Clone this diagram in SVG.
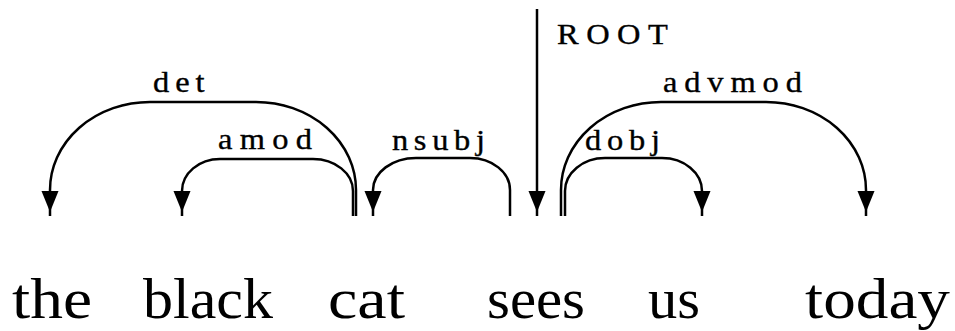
<svg xmlns="http://www.w3.org/2000/svg" xmlns:xlink="http://www.w3.org/1999/xlink" width="955" height="331" viewBox="0 0 955 331">
<style>
.arc{fill:none;stroke:#000;stroke-width:2.5}
.lbl{font-family:"Liberation Serif","DejaVu Serif",serif;font-size:29px;fill:#000;stroke:#000;stroke-width:0.35}
.word{font-family:"Liberation Serif","DejaVu Serif",serif;font-size:57px;fill:#000}
.ah{fill:#000;stroke:none}
</style>
<defs>
<path id="ah" class="ah" d="M-8.5,-25 L8.5,-25 L0,-4 Z"/>
</defs>
<rect width="955" height="331" fill="#fff"/>
<g id="connectors">
<g id="e-det">
<path class="arc" d="M356,216 V190 A100,88 0 0 0 256,102 H150 A100,88 0 0 0 50,190 V216"/>
<use xlink:href="#ah" href="#ah" x="50" y="216"/>
<g transform="translate(153,92) scale(1.12,1)"><text class="lbl" x="0" y="0" textLength="46" lengthAdjust="spacing">det</text></g>
</g>
<g id="e-amod">
<path class="arc" d="M353,216 V191 A40,32 0 0 0 313,159 H220 A38,32 0 0 0 182,191 V216"/>
<use xlink:href="#ah" href="#ah" x="182" y="216"/>
<g transform="translate(218,149) scale(1.12,1)"><text class="lbl" x="0" y="0" textLength="84" lengthAdjust="spacing">amod</text></g>
</g>
<g id="e-nsubj">
<path class="arc" d="M510,216 V190 A40,32 0 0 0 470,158 H416 A43,32 0 0 0 373,190 V216"/>
<use xlink:href="#ah" href="#ah" x="373" y="216"/>
<g transform="translate(392,150) scale(1.12,1)"><text class="lbl" x="0" y="0" textLength="83" lengthAdjust="spacing">nsubj</text></g>
</g>
<g id="e-root">
<path class="arc" d="M537,9 V216"/>
<use xlink:href="#ah" href="#ah" x="537" y="216"/>
<g transform="translate(557,44) scale(1.12,1)"><text class="lbl" x="0" y="0" textLength="99" lengthAdjust="spacing">ROOT</text></g>
</g>
<g id="e-dobj">
<path class="arc" d="M565,216 V191 A40,33 0 0 1 605,158 H662 A40,33 0 0 1 702,191 V216"/>
<use xlink:href="#ah" href="#ah" x="702" y="216"/>
<g transform="translate(585,150) scale(1.12,1)"><text class="lbl" x="0" y="0" textLength="67" lengthAdjust="spacing">dobj</text></g>
</g>
<g id="e-advmod">
<path class="arc" d="M561,216 V190 A100,88 0 0 1 661,102 H766 A100,88 0 0 1 866,190 V216"/>
<use xlink:href="#ah" href="#ah" x="866" y="216"/>
<g transform="translate(663,92) scale(1.12,1)"><text class="lbl" x="0" y="0" textLength="124" lengthAdjust="spacing">advmod</text></g>
</g>
</g>
<g id="w-the"><text class="word" x="12" y="318" textLength="80" lengthAdjust="spacingAndGlyphs">the</text></g>
<g id="w-black"><text class="word" x="143" y="318" textLength="130" lengthAdjust="spacingAndGlyphs">black</text></g>
<g id="w-cat"><text class="word" x="328" y="318" textLength="77" lengthAdjust="spacingAndGlyphs">cat</text></g>
<g id="w-sees"><text class="word" x="487" y="318" textLength="98" lengthAdjust="spacingAndGlyphs">sees</text></g>
<g id="w-us"><text class="word" x="648" y="318" textLength="52" lengthAdjust="spacingAndGlyphs">us</text></g>
<g id="w-today"><text class="word" x="805" y="318" textLength="145" lengthAdjust="spacingAndGlyphs">today</text></g>
</svg>
